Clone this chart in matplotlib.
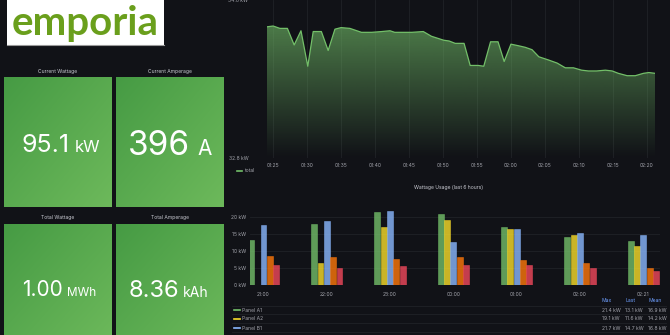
import matplotlib
matplotlib.use('Agg')
import matplotlib.pyplot as plt
import numpy as np
from matplotlib.colors import LinearSegmentedColormap, to_rgb
from matplotlib.patches import Rectangle, Polygon

plt.rcParams['font.family'] = ['Inter', 'DejaVu Sans']

W, H = 670, 335
BG = '#111217'
TXT = '#c9cad2'
DIM = '#a3a4ac'
GRID = '#202227'
FS = 3.6

# stat panels
stat_titles = ['Current Wattage', 'Current Amperage', 'Total Wattage', 'Total Amperage']
stat_values = ['95.1', '396', '1.00', '8.36']
stat_units = ['kW', 'A', 'MWh', 'kAh']

# total power, minutes after 01:00
total_minutes = [24.1, 25.0, 26.0, 27.1, 28.1, 29.1, 30.1, 30.9, 32.1, 33.1,
                 34.1, 35.0, 36.3, 38.0, 39.5, 41.0, 42.2, 42.9, 45.4, 47.1,
                 48.3, 50.1, 50.9, 51.8, 53.1, 54.0, 55.2, 56.0, 57.0, 58.1,
                 59.0, 60.0, 61.1, 62.1, 63.1, 64.1, 65.5, 66.8, 68.0, 69.2,
                 70.4, 71.4, 72.6, 73.9, 74.9, 75.8, 77.1, 78.3, 79.5, 80.3, 81.2]
total_kw = [34.46, 34.47, 34.44, 34.44, 34.23, 34.41, 33.96, 34.40, 34.40, 34.16,
            34.43, 34.45, 34.44, 34.39, 34.39, 34.40, 34.41, 34.39, 34.39, 34.40,
            34.34, 34.29, 34.28, 34.25, 34.25, 33.97, 33.97, 33.96, 34.27, 34.27,
            34.02, 34.24, 34.22, 34.20, 34.17, 34.08, 34.04, 34.00, 33.94, 33.94,
            33.91, 33.90, 33.90, 33.91, 33.90, 33.87, 33.84, 33.84, 33.87, 33.88, 33.87]
total_range = [32.8, 34.8]

# hourly wattage per panel (kW)
bar_hours = ['21:00', '22:00', '23:00', '00:00', '01:00', '02:00', '02:21']
panel_names = ['Panel A1', 'Panel A2', 'Panel B1', 'Panel B2', 'Panel C1']
panel_a1 = [13.4, 18.0, 21.4, 20.9, 17.2, 14.3, 13.1]
panel_a2 = [np.nan, 6.6, 17.0, 19.1, 16.4, 14.7, 11.6]
panel_b1 = [17.6, 18.8, 21.7, 12.6, 16.6, 15.3, 14.7]
panel_b2 = [8.7, 8.2, 7.7, 8.3, 7.5, 6.5, 5.1]
panel_c1 = [6.0, 5.2, 5.7, 6.0, 5.9, 5.0, 4.2]
panel_colors = ['#73BF69', '#FADE2A', '#8AB8FF', '#FF780A', '#F2495C']


def box(x0, y0, x1, y1):
    return [x0 / W, 1 - y1 / H, (x1 - x0) / W, (y1 - y0) / H]


fig = plt.figure(figsize=(W / 100, H / 100), dpi=100, facecolor=BG)
bg = fig.add_axes([0, 0, 1, 1])
bg.set_facecolor(BG)
bg.axis('off')

# logo
bg.add_patch(Rectangle((7, 0), 157, 45, facecolor='white', edgecolor='none'))
bg.plot([7, 164], [45, 45], color='#9a9a9a', lw=0.8)
bg.text(85.5, 35.5, 'emporia', ha='center', va='baseline', fontsize=29,
        family='Lato', fontweight='bold', color='#6a9f1c')

# stat tiles
tiles = [(4, 78, 111.5, 207.5), (116, 78, 223.5, 207.5),
         (4, 224, 111.5, 345), (116, 224, 223.5, 345)]
value_spots = [(70, 151.7, 75, 18, 12), (190, 155, 197, 24, 15),
               (62.5, 295.7, 66.5, 15, 8.5), (179, 296.7, 183, 17, 10)]
grad = np.add.outer(np.linspace(0, 1, 60), np.linspace(0, 1, 60)) / 2
stat_cmap = LinearSegmentedColormap.from_list('stat', ['#469b44', '#6db95b'])
for i, (x0, y0, x1, y1) in enumerate(tiles):
    bg.imshow(grad, cmap=stat_cmap, extent=(x0, x1, y1, y0), aspect='auto',
              interpolation='bilinear', zorder=1)
    bg.text((x0 + x1) / 2, y0 - 6.5, stat_titles[i], ha='center', va='center',
            fontsize=FS, color=TXT)
    xr, yb, xu, fs_v, fs_u = value_spots[i]
    bg.text(xr, yb, stat_values[i], ha='right', va='baseline', fontsize=fs_v,
            color='white', zorder=3)
    bg.text(xu, yb, stat_units[i], ha='left', va='baseline', fontsize=fs_u,
            color='white', zorder=3)

# total power line with fading fill
ax1 = fig.add_axes(box(267, 0, 655, 157.7))
ax1.set_facecolor('none')
t = np.array(total_minutes)
v = np.array(total_kw)
ymin, ymax = total_range
ax1.plot(t, v, color='#73BF69', lw=0.9, zorder=3)
poly = Polygon([(t[0], ymin)] + list(zip(t, v)) + [(t[-1], ymin)], closed=True,
               facecolor='none', edgecolor='none')
ax1.add_patch(poly)
fade = np.zeros((100, 1, 4))
fade[..., :3] = to_rgb('#73BF69')
fade[:, 0, 3] = np.linspace(0.6, 0.0, 100)
im = ax1.imshow(fade, extent=(t[0], t[-1], ymin, v.max()), aspect='auto',
                origin='upper', zorder=2)
im.set_clip_path(poly)
ax1.set_xlim(t[0], t[-1])
ax1.set_ylim(ymin, ymax)
ticks = np.arange(25, 81, 5)
ax1.set_xticks(ticks)
ax1.set_xticklabels([f'{(60 + m) // 60:02d}:{m % 60:02d}' for m in ticks])
ax1.set_yticks(total_range)
ax1.set_yticklabels([f'{y:.1f} kW' for y in total_range])
ax1.tick_params(axis='x', length=0, pad=4, labelsize=FS, labelcolor=DIM)
ax1.tick_params(axis='y', length=0, pad=13.5, labelsize=FS, labelcolor=DIM)
ax1.grid(axis='x', color=GRID, lw=0.6)
ax1.set_axisbelow(True)
for s in ax1.spines.values():
    s.set_visible(False)

bg.plot([236.5, 242], [171, 171], color='#73BF69', lw=1.2)
bg.text(245, 171, 'total', ha='left', va='center', fontsize=FS, color=DIM)

# hourly bars
bg.text(449, 188, 'Wattage Usage (last 6 hours)', ha='center', va='center',
        fontsize=FS, color=TXT)
ax2 = fig.add_axes(box(250, 200, 660, 285.3))
ax2.set_facecolor('none')
series = [panel_a1, panel_a2, panel_b1, panel_b2, panel_c1]
x = np.arange(len(bar_hours))
for k, (vals, col) in enumerate(zip(series, panel_colors)):
    ax2.bar(x + (k - 2) * 0.1, vals, width=0.093, color=col, alpha=0.8,
            edgecolor=col, lw=0.4, zorder=3)
ax2.set_xlim(-0.213, 6.264)
ax2.set_ylim(0, 25)
ax2.set_xticks(x)
ax2.set_xticklabels(bar_hours)
ax2.set_yticks([0, 5, 10, 15, 20])
ax2.set_yticklabels([f'{y} kW' for y in [0, 5, 10, 15, 20]])
ax2.tick_params(axis='x', length=0, pad=5, labelsize=FS, labelcolor=DIM)
ax2.tick_params(axis='y', length=0, pad=3, labelsize=FS, labelcolor=DIM)
ax2.grid(axis='y', color=GRID, lw=0.6)
ax2.set_axisbelow(True)
for s in ax2.spines.values():
    s.set_visible(False)

# legend table
cols = [('Max', 601.7, np.nanmax), ('Last', 625, lambda a: a[-1]), ('Mean', 648.3, np.nanmean)]
for name, cx, _ in cols:
    bg.text(cx, 301, name, ha='left', va='center', fontsize=FS, color='#6e9fff')
bg.plot([232, 666], [305.7, 305.7], color=GRID, lw=0.6)
for r in range(3):
    ry = 310 + r * 9
    vals = np.array(series[r], dtype=float)
    bg.plot([234, 239.5], [ry, ry], color=panel_colors[r], lw=1.2)
    bg.text(242, ry, panel_names[r], ha='left', va='center', fontsize=FS, color=DIM)
    for _, cx, fn in cols:
        bg.text(cx, ry, f'{fn(vals):.1f} kW', ha='left', va='center', fontsize=FS, color=DIM)
    bg.plot([232, 666], [ry + 4.3, ry + 4.3], color=GRID, lw=0.6)

bg.set_xlim(0, W)
bg.set_ylim(H, 0)

fig.savefig('out.png', dpi=100, facecolor=BG)
